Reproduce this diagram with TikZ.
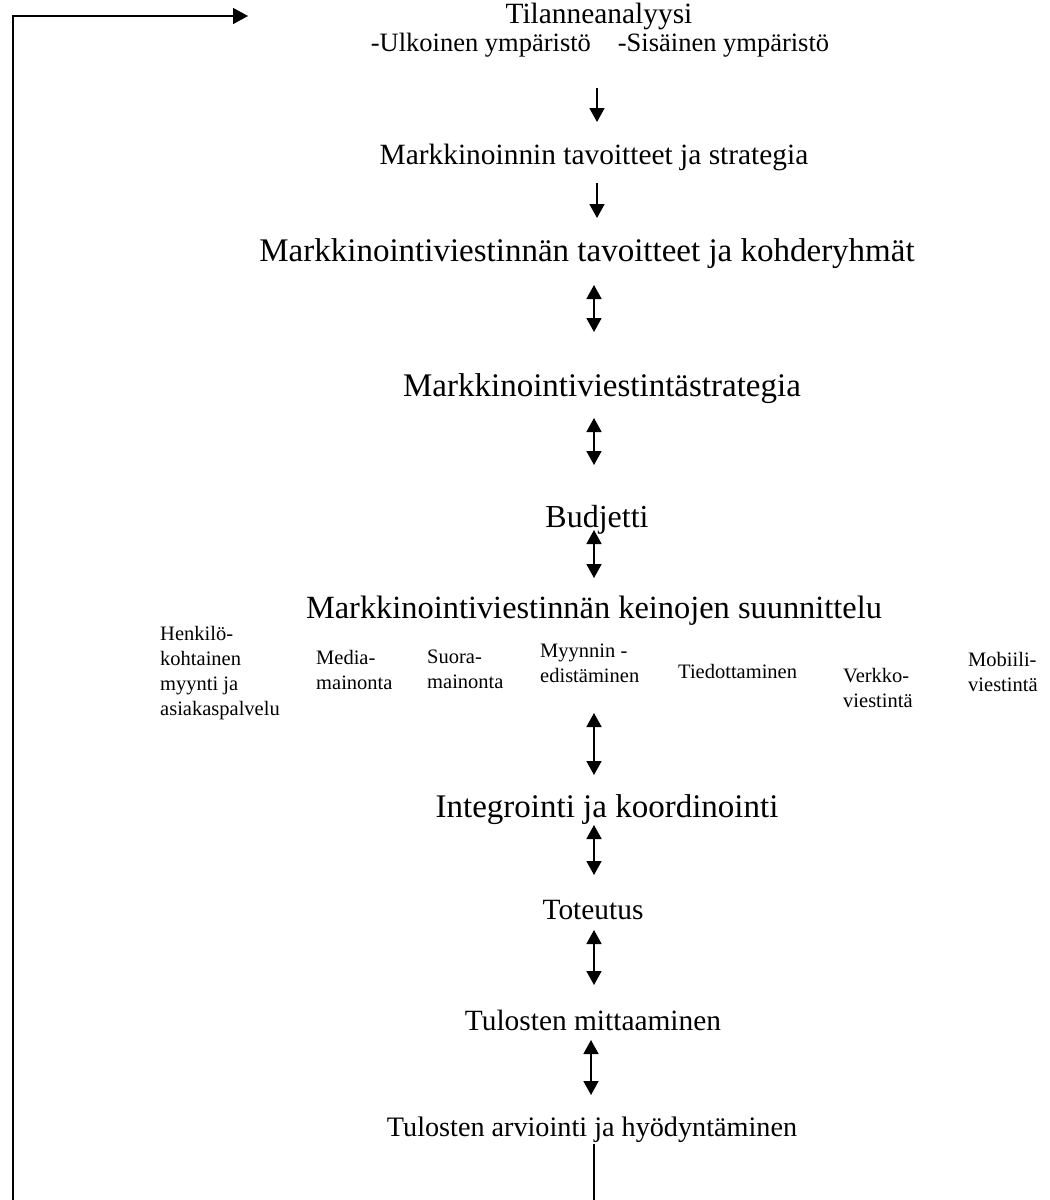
\documentclass[tikz,border=0pt]{standalone}
\usepackage{fontspec}
\setmainfont{Liberation Serif}
\usetikzlibrary{arrows.meta}
\tikzset{
  txt/.style={inner sep=0pt},
  big/.style={txt, font=\fontsize{33}{38}\selectfont},
  med/.style={txt, font=\fontsize{29.4}{34}\selectfont},
  sub/.style={txt, font=\fontsize{26.5}{30}\selectfont},
  small/.style={inner sep=0pt, anchor=north west, align=left, font=\fontsize{20.5}{25}\selectfont},
  conn/.style={line width=1.7pt},
  one/.style={conn, -{Triangle[length=14pt,width=15pt]}},
  two/.style={conn, {Triangle[length=14pt,width=15pt]}-{Triangle[length=14pt,width=15pt]}},
  loop/.style={line width=1.4pt}
}
\begin{document}
\begin{tikzpicture}[x=1pt,y=-1pt]
\useasboundingbox (0,0) rectangle (1050,1200);
\node[med] (tila) at (599,16) {Tilanneanalyysi};
\node[sub] (ymp) at (600,45) {-Ulkoinen ympäristö\hspace{27pt}-Sisäinen ympäristö};
\node[med] (mts) at (594,157) {Markkinoinnin tavoitteet ja strategia};
\node[big] (mvt) at (587,254) {Markkinointiviestinnän tavoitteet ja kohderyhmät};
\node[big] (mvs) at (602,389) {Markkinointiviestintästrategia};
\node[big, font=\fontsize{32}{36}\selectfont] (bud) at (597,520) {Budjetti};
\node[big, font=\fontsize{32.4}{37}\selectfont] (kei) at (594,611) {Markkinointiviestinnän keinojen suunnittelu};
\node[small] (k1) at (160,626) {Henkilö-\\kohtainen\\myynti ja\\asiakaspalvelu};
\node[small] (k2) at (316,650) {Media-\\mainonta};
\node[small] (k3) at (427,650) {Suora-\\mainonta};
\node[small] (k4) at (540,644) {Myynnin -\\edistäminen};
\node[small] (k5) at (678,664) {Tiedottaminen};
\node[small] (k6) at (843,668) {Verkko-\\viestintä};
\node[small] (k7) at (968,652) {Mobiili-\\viestintä};
\node[big] (int) at (607,810) {Integrointi ja koordinointi};
\node[med] (tot) at (593,910) {Toteutus};
\node[med] (tul) at (593,1020) {Tulosten mittaaminen};
\node[txt, font=\fontsize{28.2}{32}\selectfont] (arv) at (592,1130) {Tulosten arviointi ja hyödyntäminen};

\coordinate (a1s) at (597,88);  \coordinate (a1e) at (597,122);
\coordinate (a2s) at (597,183); \coordinate (a2e) at (597,218);
\coordinate (a3s) at (594,285); \coordinate (a3e) at (594,332);
\coordinate (a4s) at (594,418); \coordinate (a4e) at (594,465);
\coordinate (a5s) at (594,530); \coordinate (a5e) at (594,578);
\coordinate (a6s) at (594,713); \coordinate (a6e) at (594,775);
\coordinate (a7s) at (594,825); \coordinate (a7e) at (594,875);
\coordinate (a8s) at (594,930); \coordinate (a8e) at (594,985);
\coordinate (a9s) at (591,1040); \coordinate (a9e) at (591,1095);

\draw[one] (a1s) -- (a1e);
\draw[one] (a2s) -- (a2e);
\draw[two] (a3s) -- (a3e);
\draw[two] (a4s) -- (a4e);
\draw[two] (a5s) -- (a5e);
\draw[two] (a6s) -- (a6e);
\draw[two] (a7s) -- (a7e);
\draw[two] (a8s) -- (a8e);
\draw[two] (a9s) -- (a9e);

\coordinate (bend) at (594,1200);
\coordinate (lbot) at (13,1200);
\coordinate (ltop) at (13,16);
\coordinate (tend) at (248,16);
\draw[loop] ([yshift=-1pt]arv.south -| bend) -- (bend);
\draw[loop, -{Triangle[length=15pt,width=16pt]}] (lbot) -- (ltop) -- (tend);
\end{tikzpicture}
\end{document}
